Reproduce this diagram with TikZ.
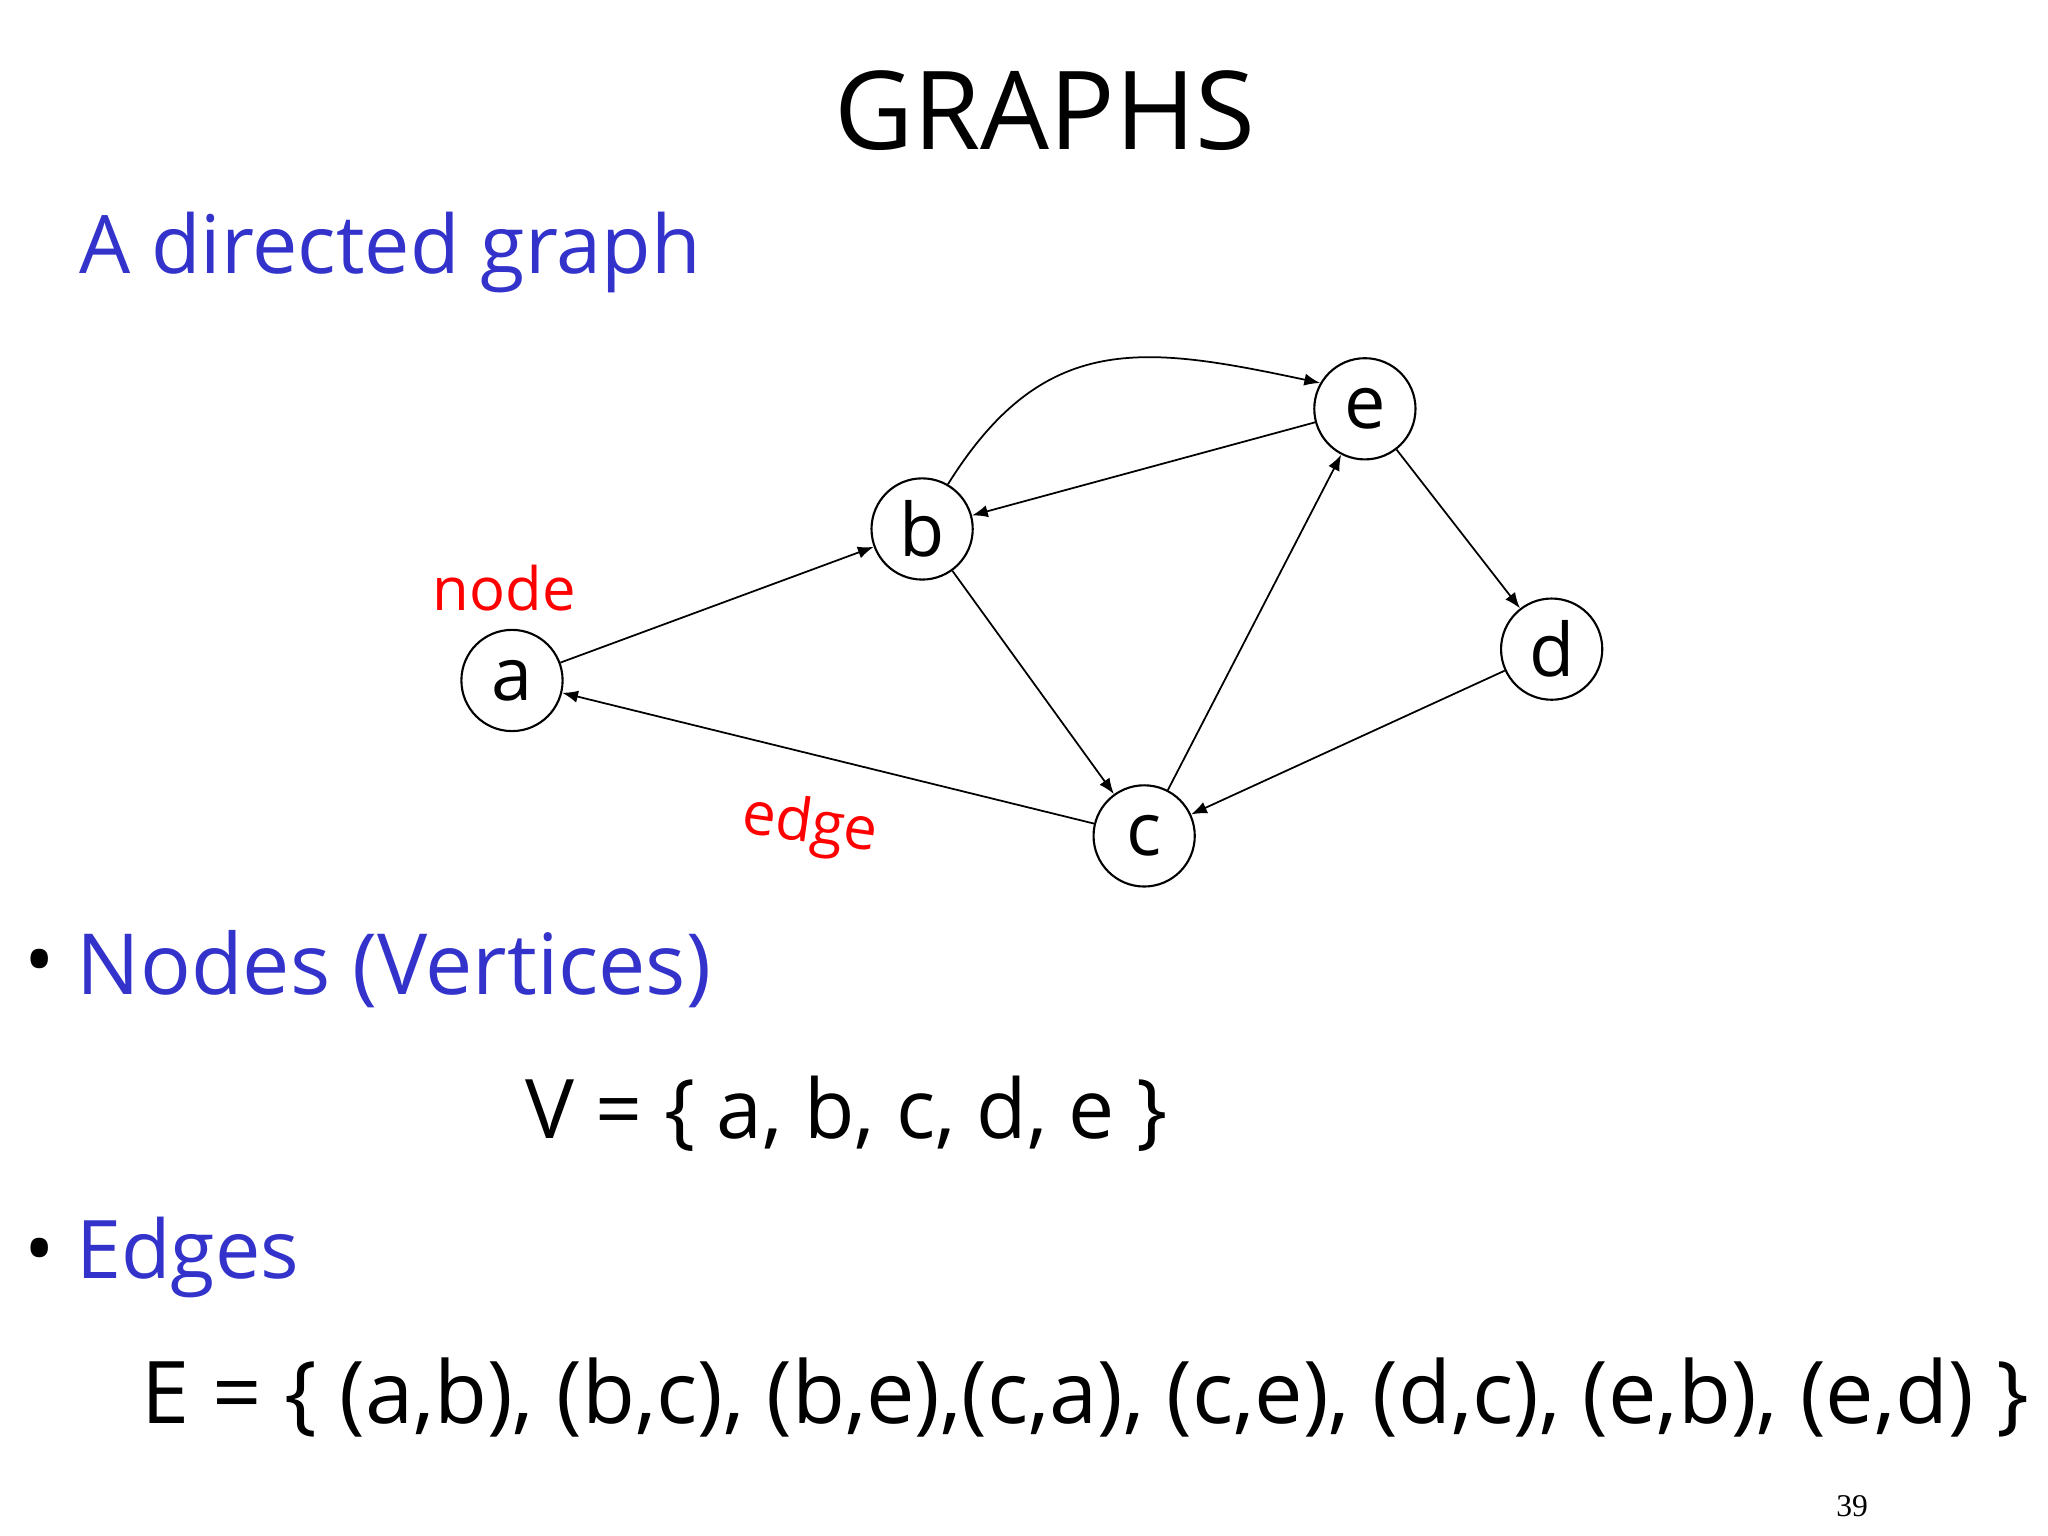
\documentclass[tikz,border=0pt]{standalone}
\usepackage{fontspec}
\setmainfont{Open Sans}
\newfontfamily\numfont{Liberation Serif}
\usetikzlibrary{arrows.meta}
\definecolor{slideblue}{RGB}{51,51,204}
\begin{document}
\begin{tikzpicture}[x=0.01306cm,y=-0.01306cm,
  vtx/.style={circle,draw,line width=0.6pt,minimum size=28.8pt,inner sep=0pt,font=\fontsize{21}{21}\selectfont},
  arc/.style={line width=0.5pt,-{Latex[length=4.5pt,width=3.5pt]}},
  bluetext/.style={text=slideblue,anchor=west,inner sep=0pt},
  redtext/.style={text=red,inner sep=0pt,font=\fontsize{17}{17}\selectfont}]
\useasboundingbox (0,0) rectangle (1568,1176);
\node[inner sep=0pt,font=\fontsize{31}{31}\selectfont] (title) at (800,85) {GRAPHS};
\node[bluetext,font=\fontsize{23}{23}\selectfont] (sub) at (60,193) {A directed graph};
\node[vtx] (a) at (392,521) {a};
\node[vtx] (b) at (706,405) {b};
\node[vtx] (e) at (1045,313) {e};
\node[vtx] (d) at (1188,497) {d};
\node[vtx] (c) at (876,640) {c};
\node[redtext] (nl) at (386,450) {node};
\node[redtext,rotate=-8] (el) at (620,633) {edge};
\draw[arc] (a) -- (b);
\draw[arc] (b) -- (c);
\draw[arc] (b.60) to[out=58,in=168,looseness=1.2] (e.150);
\draw[arc] (c) -- (a);
\draw[arc] (c) -- (e);
\draw[arc] (d) -- (c);
\draw[arc] (e) -- (b);
\draw[arc] (e) -- (d);
\node[anchor=west,inner sep=0pt,font=\fontsize{23}{23}\selectfont] (bul1) at (18,742) {•};
\node[bluetext,font=\fontsize{24}{24}\selectfont] (nodes) at (58,742) {Nodes (Vertices)};
\node[anchor=west,inner sep=0pt,font=\fontsize{23.4}{23.4}\selectfont] (V) at (402,853) {V = \{ a, b, c, d, e \}};
\node[anchor=west,inner sep=0pt,font=\fontsize{23}{23}\selectfont] (bul2) at (18,963) {•};
\node[bluetext,font=\fontsize{23}{23}\selectfont] (edges) at (58,963) {Edges};
\node[anchor=west,inner sep=0pt,font=\fontsize{24.6}{24.6}\selectfont] (E) at (108,1070) {E = \{ (a,b), (b,c), (b,e),(c,a), (c,e), (d,c), (e,b), (e,d) \}};
\node[inner sep=0pt,font=\numfont\fontsize{9}{9}\selectfont] (pg) at (1418,1153) {39};
\end{tikzpicture}
\end{document}
